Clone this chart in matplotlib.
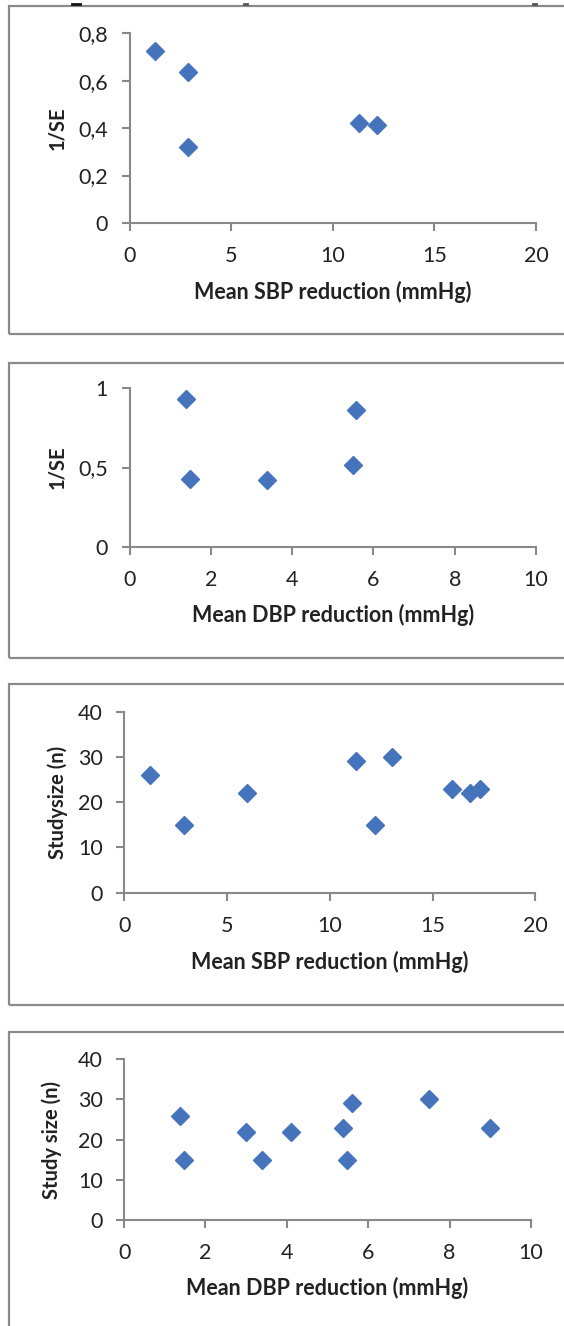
import matplotlib
matplotlib.use("Agg")
import matplotlib.pyplot as plt
from matplotlib.patches import Rectangle
from matplotlib.lines import Line2D
from matplotlib.ticker import FuncFormatter

# ---- data ----
sbp_se_x = [1.24, 2.87, 2.87, 11.29, 12.18]
sbp_se_y = [0.725, 0.637, 0.322, 0.42, 0.412]

dbp_se_x = [1.39, 1.50, 3.39, 5.57, 5.49]
dbp_se_y = [0.934, 0.426, 0.421, 0.863, 0.514]

sbp_n_x = [1.28, 2.89, 6.0, 11.28, 13.03, 12.19, 15.94, 16.8, 17.32]
sbp_n_y = [26, 15, 22, 29, 30, 15, 23, 22, 23]

dbp_n_x = [1.37, 1.48, 2.99, 3.40, 4.11, 5.39, 5.60, 5.48, 7.49, 8.99]
dbp_n_y = [26, 15, 22, 15, 22, 23, 29, 15, 30, 23]

xlabels = ["Mean SBP reduction (mmHg)", "Mean DBP reduction (mmHg)",
           "Mean SBP reduction (mmHg)", "Mean DBP reduction (mmHg)"]
ylabels = ["1/SE", "1/SE", "Studysize (n)", "Study size (n)"]

W, H = 564, 1326
fig = plt.figure(figsize=(W / 100, H / 100), dpi=100)
plt.rcParams['font.family'] = ['Lato', 'DejaVu Sans']

MARK = "#4574BD"
SPINE = "#888888"
TEXT = "#222222"
BOX = "#8A8A8A"

def ax_px(l, t, r, b):
    return fig.add_axes([l / W, 1 - b / H, (r - l) / W, (b - t) / H])

def box_px(l, t, r, b):
    fig.patches.append(Rectangle((l / W, 1 - b / H), (r - l) / W, (b - t) / H,
                                 transform=fig.transFigure, fill=False,
                                 edgecolor=BOX, linewidth=1.6))

def comma(v, pos):
    return ("%g" % v).replace(".", ",")

# boxes (right edges and last bottom cut off by the image)
box_px(9, 6, 600, 334)
box_px(9, 363, 600, 658)
box_px(9, 684, 600, 1005)
box_px(9, 1032, 600, 1400)

# remnants of previous figure at very top
for x0, x1, c in [(72, 80, "#111111"), (244, 247, "#555555"), (533, 536, "#555555")]:
    fig.lines.append(Line2D([x0 / W, x1 / W], [1 - 4 / H, 1 - 4 / H],
                            transform=fig.transFigure, color=c, linewidth=2))

panels = [
    dict(rect=(129.5, 33.3, 536, 223), x=sbp_se_x, y=sbp_se_y,
         xlim=(0, 20), xt=[0, 5, 10, 15, 20], ylim=(0, 0.8), yt=[0, 0.2, 0.4, 0.6, 0.8],
         ylab_x=57.5, xlab_y=292),
    dict(rect=(129.5, 388.3, 536, 546.7), x=dbp_se_x, y=dbp_se_y,
         xlim=(0, 10), xt=[0, 2, 4, 6, 8, 10], ylim=(0, 1), yt=[0, 0.5, 1],
         ylab_x=57.5, xlab_y=615),
    dict(rect=(124.1, 711.7, 535.3, 892.7), x=sbp_n_x, y=sbp_n_y,
         xlim=(0, 20), xt=[0, 5, 10, 15, 20], ylim=(0, 40), yt=[0, 10, 20, 30, 40],
         ylab_x=57.5, xlab_y=961.7),
    dict(rect=(124.1, 1059.3, 530.9, 1220), x=dbp_n_x, y=dbp_n_y,
         xlim=(0, 10), xt=[0, 2, 4, 6, 8, 10], ylim=(0, 40), yt=[0, 10, 20, 30, 40],
         ylab_x=52, xlab_y=1288.3),
]

for i, p in enumerate(panels):
    l, t, r, b = p["rect"]
    ax = ax_px(l, t, r, b)
    ax.set_facecolor("none")
    ax.plot(p["x"], p["y"], linestyle="none", marker="D", markersize=9,
            color=MARK, markeredgecolor=MARK, clip_on=False, zorder=3)
    ax.set_xlim(*p["xlim"])
    ax.set_ylim(*p["ylim"])
    ax.set_xticks(p["xt"])
    ax.set_yticks(p["yt"])
    ax.xaxis.set_major_formatter(FuncFormatter(comma))
    ax.yaxis.set_major_formatter(FuncFormatter(comma))
    for s in ["top", "right"]:
        ax.spines[s].set_visible(False)
    for s in ["left", "bottom"]:
        ax.spines[s].set_color(SPINE)
        ax.spines[s].set_linewidth(1.5)
    ax.tick_params(axis="both", direction="out", length=6, width=1.5,
                   color=SPINE, labelsize=15.5, labelcolor=TEXT)
    ax.tick_params(axis="x", pad=10.5)
    ax.tick_params(axis="y", pad=9.5)
    ax.set_xlabel(xlabels[i], fontsize=15.5, fontweight="bold", color=TEXT, va="center")
    ax.set_ylabel(ylabels[i], fontsize=14.5, fontweight="bold", color=TEXT, va="center")
    ax.yaxis.set_label_coords((p["ylab_x"] - l) / (r - l), 0.5)
    ax.xaxis.set_label_coords(0.5, -((p["xlab_y"] - b) / (b - t)))

fig.savefig("out.png", dpi=100)
